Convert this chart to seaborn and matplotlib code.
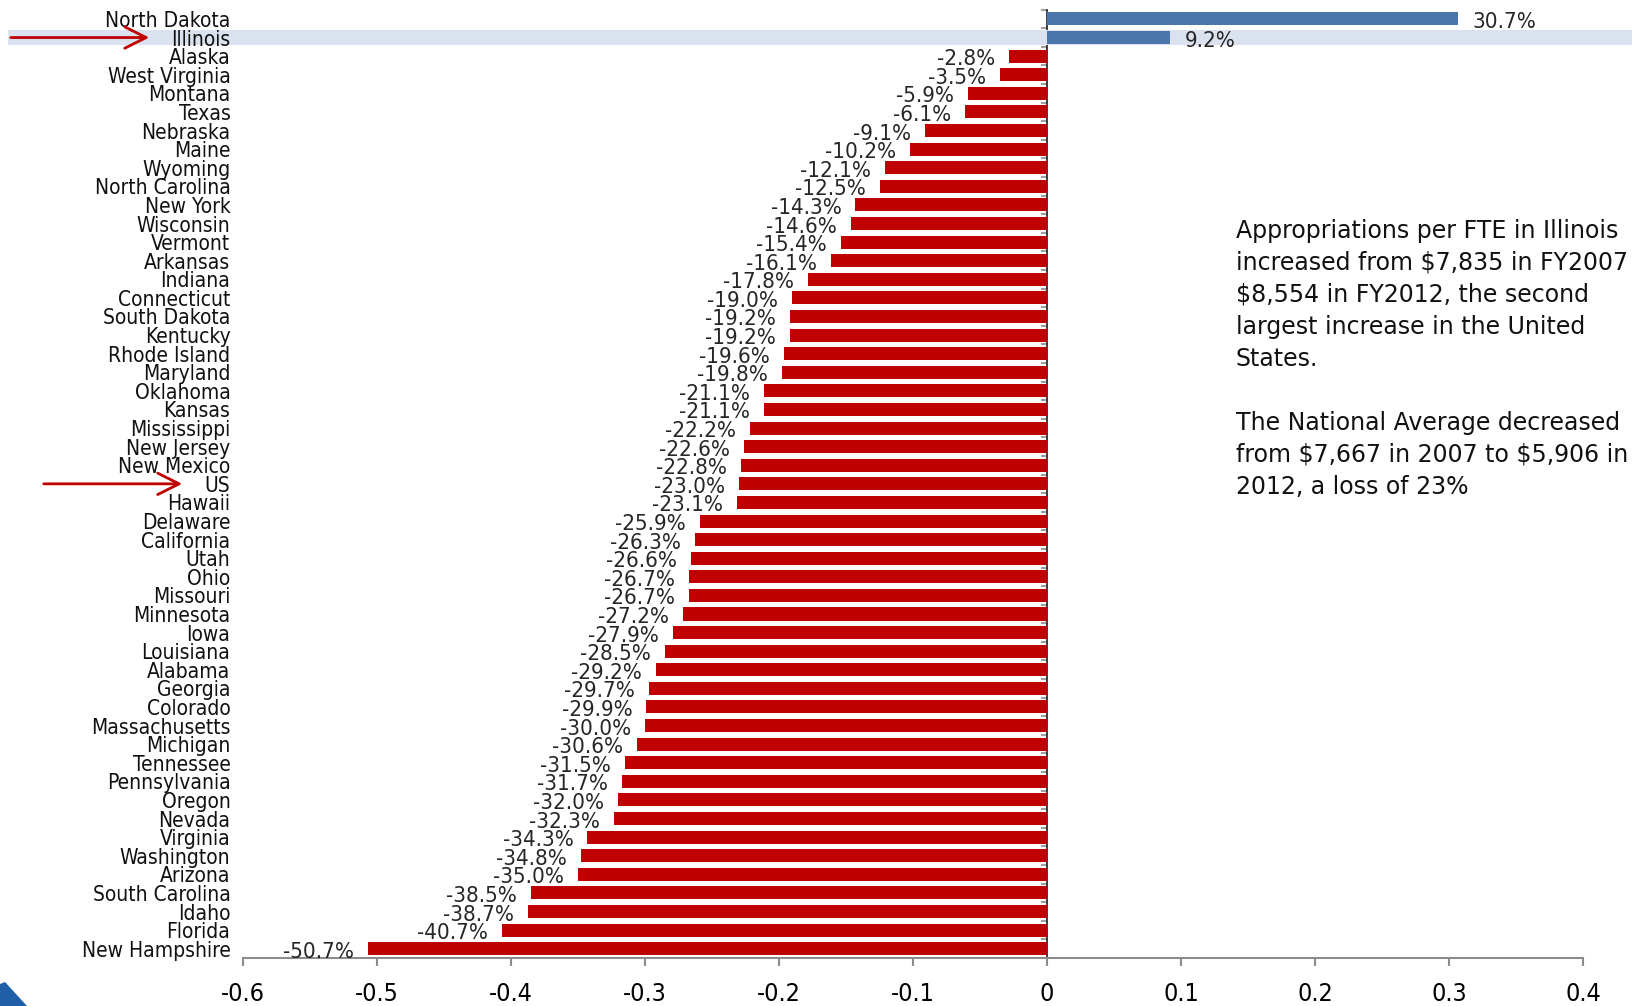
import numpy as np
import pandas as pd
import seaborn as sns
import matplotlib
matplotlib.use("Agg")
import matplotlib.pyplot as plt
import matplotlib.transforms as mtransforms
from matplotlib.patches import Rectangle, Polygon

# Percent change in appropriations per FTE, FY2007 -> FY2012
states = [
    "North Dakota", "Illinois", "Alaska", "West Virginia", "Montana", "Texas",
    "Nebraska", "Maine", "Wyoming", "North Carolina", "New York", "Wisconsin",
    "Vermont", "Arkansas", "Indiana", "Connecticut", "South Dakota", "Kentucky",
    "Rhode Island", "Maryland", "Oklahoma", "Kansas", "Mississippi", "New Jersey",
    "New Mexico", "US", "Hawaii", "Delaware", "California", "Utah", "Ohio",
    "Missouri", "Minnesota", "Iowa", "Louisiana", "Alabama", "Georgia",
    "Colorado", "Massachusetts", "Michigan", "Tennessee", "Pennsylvania",
    "Oregon", "Nevada", "Virginia", "Washington", "Arizona", "South Carolina",
    "Idaho", "Florida", "New Hampshire",
]
pct_change = [
    30.7, 9.2, -2.8, -3.5, -5.9, -6.1, -9.1, -10.2, -12.1, -12.5, -14.3, -14.6,
    -15.4, -16.1, -17.8, -19.0, -19.2, -19.2, -19.6, -19.8, -21.1, -21.1, -22.2,
    -22.6, -22.8, -23.0, -23.1, -25.9, -26.3, -26.6, -26.7, -26.7, -27.2, -27.9,
    -28.5, -29.2, -29.7, -29.9, -30.0, -30.6, -31.5, -31.7, -32.0, -32.3, -34.3,
    -34.8, -35.0, -38.5, -38.7, -40.7, -50.7,
]
x_ticks = [-0.6, -0.5, -0.4, -0.3, -0.2, -0.1, 0.0, 0.1, 0.2, 0.3, 0.4]
highlighted = ["Illinois", "US"]

note = ("Appropriations per FTE in Illinois\n"
        "increased from $7,835 in FY2007\n"
        "$8,554 in FY2012, the second\n"
        "largest increase in the United\n"
        "States.\n\n"
        "The National Average decreased\n"
        "from $7,667 in 2007 to $5,906 in\n"
        "2012, a loss of 23%")

RED = "#C00000"
BLUE = "#4A76AC"
GREY = "#8C8C8C"
BAND = "#DAE1EF"

sns.set_theme(style="white")
plt.rcParams["font.family"] = ["DejaVu Sans"]
COND = dict(fontstretch="condensed")

df = pd.DataFrame({"state": states, "change": np.array(pct_change) / 100.0})
df["sign"] = np.where(df["change"] >= 0, "up", "down")

fig = plt.figure(figsize=(16.33, 10.06), dpi=100)
ax = fig.add_axes([0.1488, 0.0477, 0.9694 - 0.1488, 0.9904 - 0.0477])

sns.barplot(data=df, x="change", y="state", hue="sign", orient="h",
            palette={"up": BLUE, "down": RED}, dodge=False, width=0.7,
            saturation=1, legend=False, ax=ax, zorder=2, linewidth=0)

n = len(states)
ax.set_xlim(-0.6, 0.4)
ax.set_ylim(n - 0.5, -0.5)
ax.set_xlabel("")
ax.set_ylabel("")

# x axis
ax.set_xticks(x_ticks)
ax.set_xticklabels([f"{t:g}" for t in x_ticks], fontsize=18, **COND)
ax.tick_params(axis="x", length=6, width=1.5, color=GREY, pad=11,
               labelcolor="black", bottom=True)

# category labels at the far left, no ticks
ax.set_yticks(range(n))
ax.set_yticklabels(states, fontsize=15, **COND)
ax.tick_params(axis="y", length=0, pad=9, labelcolor="#111111")

for side in ["top", "right", "left"]:
    ax.spines[side].set_visible(False)
ax.spines["bottom"].set_color(GREY)
ax.spines["bottom"].set_linewidth(1.5)

# vertical axis line at zero with row-boundary ticks
zero_frac = (0 - x_ticks[0]) / (x_ticks[-1] - x_ticks[0])
sec = ax.secondary_yaxis(zero_frac)
sec.set_yticks(np.arange(n + 1) - 0.5)
sec.set_yticklabels([])
sec.tick_params(axis="y", length=4, width=1.2, color=GREY, direction="in")
sec.spines["left"].set_color(GREY)
sec.spines["left"].set_linewidth(1.5)

# value labels
for i, v in enumerate(df["change"]):
    label = f"{v * 100:.1f}%"
    if v >= 0:
        ax.annotate(label, (v, i), xytext=(14, -3), textcoords="offset pixels",
                    ha="left", va="center", fontsize=16, **COND)
    else:
        ax.annotate(label, (v, i), xytext=(-14, -3), textcoords="offset pixels",
                    ha="right", va="center", fontsize=16, **COND)

# highlight band and arrows
blend = mtransforms.blended_transform_factory(fig.transFigure, ax.transData)
il = states.index("Illinois")
ax.add_patch(Rectangle((8 / 1633, il - 0.38), 1 - 8 / 1633, 0.76,
                       transform=blend, facecolor=BAND, edgecolor="none",
                       zorder=0.5, clip_on=False))

arrow_spans = {"Illinois": (8, 152), "US": (41, 185)}
for name in highlighted:
    x0, x1 = arrow_spans[name]
    yi = states.index(name)
    ax.annotate("", xy=(x1 / 1633, yi), xytext=(x0 / 1633, yi),
                xycoords=blend, textcoords=blend,
                arrowprops=dict(arrowstyle="->,head_length=0.7,head_width=0.35",
                                color=RED, lw=2, mutation_scale=22),
                annotation_clip=False)

# commentary
fig.text(1236 / 1633, 1 - 219 / 1006, note, ha="left", va="top",
         fontsize=17, linespacing=1.42, color="#111111", parse_math=False)

# corner logo fragment
fig.patches.append(Polygon([(0, 0), (0, 22 / 1006), (5 / 1633, 24 / 1006),
                            (27 / 1633, 0)], closed=True,
                           transform=fig.transFigure, facecolor="#1F5FA8",
                           edgecolor="none"))

fig.savefig("out.png", dpi=100, facecolor="white")
